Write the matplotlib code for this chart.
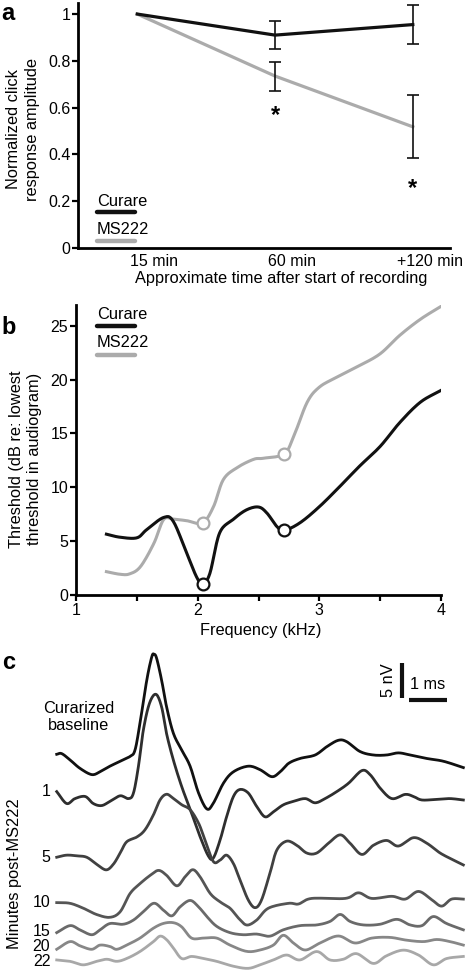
import matplotlib
matplotlib.use("Agg")
import matplotlib.pyplot as plt
import numpy as np
from matplotlib.transforms import ScaledTranslation

plt.rcParams["font.family"] = ["Liberation Sans", "DejaVu Sans"]
plt.rcParams["font.size"] = 11.5

# ---- panel a: normalized click response ----
time_labels = ["15 min", "60 min", "+120 min"]
curare_amp = [1.0, 0.91, 0.955]
curare_err = [0.0, 0.06, 0.085]
ms222_amp = [1.0, 0.735, 0.518]
ms222_err = [0.0, 0.062, 0.135]
sig_idx = [1, 2]
sig_y = [0.565, 0.255]

# ---- panel b: audiograms ----
curare_freq = [1.25, 1.36, 1.50, 1.58, 1.72, 1.80, 1.91, 1.99, 2.04, 2.10, 2.18, 2.29,
               2.40, 2.50, 2.57, 2.65, 2.71, 2.84, 3.00, 3.17, 3.33, 3.50, 3.66, 3.83, 4.00]
curare_thr = [5.65, 5.37, 5.31, 6.06, 7.2, 6.83, 3.88, 1.7, 1.0, 2.0, 5.75, 7.0,
              7.9, 8.17, 7.6, 6.37, 6.0, 6.7, 8.2, 10.1, 11.96, 13.8, 16.0, 17.9, 19.0]
ms222_freq = [1.25, 1.36, 1.44, 1.53, 1.64, 1.72, 1.80, 1.91, 2.04, 2.13, 2.21, 2.32,
              2.46, 2.54, 2.71, 2.79, 2.90, 3.00, 3.14, 3.33, 3.50, 3.66, 3.83, 4.00]
ms222_thr = [2.17, 1.93, 1.96, 2.64, 4.8, 7.0, 7.05, 6.9, 6.7, 8.2, 10.7, 11.8,
             12.6, 12.7, 13.1, 14.75, 17.9, 19.3, 20.2, 21.3, 22.4, 24.1, 25.6, 26.8]
curare_marked = [(2.04, 1.0), (2.71, 6.0)]
ms222_marked = [(2.04, 6.7), (2.71, 13.1)]

# ---- panel c: ABR traces (time ms, amplitude nV) ----
trace_names = ["Curarized\nbaseline", "1", "5", "10", "15", "20", "22"]
t_base = [0.00, 0.13, 0.35, 0.61, 0.92, 1.14, 1.40, 1.67, 1.93, 2.06, 2.19, 2.37, 2.50, 2.56,
          2.63, 2.76, 2.89, 3.07, 3.29, 3.51, 3.73, 3.95, 4.12, 4.39, 4.65, 5.04, 5.35, 5.66,
          5.88, 6.10, 6.40, 6.80, 7.11, 7.41, 7.63, 7.98, 8.33, 8.68, 8.99, 9.30, 9.74, 10.18, 10.70]
v_base = [0.0, 0.1, -0.8, -2.0, -2.9, -2.5, -1.7, -1.0, -0.3, 0.6, 4.4, 10.6, 13.9, 14.3,
          13.7, 10.6, 6.8, 3.0, 0.6, -1.7, -5.5, -7.8, -7.0, -4.1, -2.5, -1.7, -2.2, -3.2,
          -2.5, -1.3, -0.6, -0.1, 1.1, 2.0, 1.8, 0.4, -0.1, -0.1, 0.2, -0.1, -0.6, -1.0, -1.9]
t_1 = [0.00, 0.26, 0.48, 0.75, 0.96, 1.18, 1.40, 1.67, 1.89, 2.02, 2.15, 2.28, 2.44, 2.61,
       2.76, 2.89, 3.07, 3.29, 3.55, 3.77, 3.99, 4.12, 4.30, 4.47, 4.65, 4.82, 5.04, 5.26,
       5.48, 5.70, 5.96, 6.23, 6.54, 6.80, 7.06, 7.37, 7.68, 8.03, 8.25, 8.51, 8.82, 9.17,
       9.39, 9.61, 10.00, 10.35, 10.70]
v_1 = [0.0, -1.7, -1.0, -0.7, -1.7, -2.0, -1.4, -0.6, -1.0, -0.2, 3.6, 8.8, 12.6, 13.9,
       12.1, 8.3, 4.5, 0.7, -3.1, -6.4, -9.2, -9.5, -6.9, -3.6, -0.7, 0.3, -0.2, -2.1,
       -3.6, -2.9, -1.9, -1.4, -1.0, -1.6, -1.0, 0.0, 1.2, 3.0, 2.4, 0.5, -1.0, -0.4,
       -0.7, -1.2, -1.1, -1.0, -1.2]
t_5 = [0.00, 0.26, 0.53, 0.79, 1.05, 1.30, 1.49, 1.67, 1.84, 2.11, 2.32, 2.54, 2.72, 2.89,
       3.07, 3.29, 3.51, 3.73, 3.90, 4.12, 4.30, 4.47, 4.65, 4.82, 5.04, 5.22, 5.39, 5.61,
       5.79, 6.05, 6.32, 6.58, 6.84, 7.15, 7.46, 7.72, 8.03, 8.33, 8.68, 8.99, 9.39, 9.74,
       10.09, 10.44, 10.70]
v_5 = [0.0, 0.3, 0.2, 0.0, -1.0, -1.8, -1.0, 0.6, 2.2, 2.9, 3.9, 6.0, 8.2, 9.0,
       8.4, 7.5, 6.8, 4.9, 2.5, -0.6, -0.4, 0.3, -0.9, -3.2, -6.1, -7.2, -6.1, -2.3,
       1.0, 2.3, 1.7, 0.6, 0.6, 2.0, 3.2, 2.0, 0.4, 1.7, 2.4, 1.6, 2.8, 2.0,
       0.6, -0.4, -1.1]
t_10 = [0.00, 0.35, 0.70, 1.05, 1.40, 1.67, 1.93, 2.19, 2.46, 2.68, 2.89, 3.16, 3.38, 3.58,
        3.77, 4.04, 4.30, 4.56, 4.78, 5.00, 5.26, 5.57, 6.10, 6.36, 6.71, 7.59, 7.94, 8.29,
        8.82, 9.17, 9.52, 9.87, 10.13, 10.39, 10.70]
v_10 = [0.0, -0.1, -0.8, -1.7, -2.1, -1.3, 1.3, 2.7, 3.9, 4.6, 3.9, 2.4, 3.7, 4.7,
        3.7, 1.3, 0.1, -0.8, -2.2, -3.2, -2.5, -0.8, -0.1, -0.2, 0.6, 0.6, 1.4, 0.6,
        0.9, 0.5, 1.6, 0.4, -0.5, 0.5, 0.5]
t_15 = [0.00, 0.35, 0.61, 0.92, 1.14, 1.40, 1.75, 2.02, 2.28, 2.56, 2.81, 3.03, 3.25, 3.51,
        3.73, 3.95, 4.21, 4.56, 4.91, 5.26, 5.61, 5.96, 6.40, 6.84, 7.19, 7.46, 7.72, 8.07,
        8.51, 8.95, 9.30, 9.61, 9.91, 10.26, 10.70]
v_15 = [0.0, 1.0, 0.4, -0.3, 0.4, 1.3, 1.2, 1.8, 3.0, 4.2, 3.2, 2.4, 3.7, 4.6,
        3.7, 2.3, 0.9, 0.0, -0.3, -0.2, -0.5, 0.4, 1.0, 1.1, 1.6, 2.6, 1.6, 1.1,
        1.2, 1.9, 1.1, 1.0, 2.3, 1.3, 0.4]
t_20 = [0.00, 0.35, 0.61, 0.92, 1.14, 1.40, 1.58, 1.84, 2.19, 2.54, 2.81, 3.07, 3.29, 3.55,
        3.86, 4.21, 4.56, 5.00, 5.35, 5.70, 5.96, 6.23, 6.54, 6.93, 7.41, 7.85, 8.29, 8.77,
        9.21, 9.65, 10.00, 10.35, 10.70]
v_20 = [0.0, 1.1, 0.5, 0.0, 0.6, 0.4, 0.0, 0.6, 1.6, 3.0, 3.7, 3.8, 3.2, 1.6,
        1.6, 1.6, 0.6, -0.3, -0.1, 0.6, 2.0, 0.9, -0.1, 0.9, 1.9, 0.9, 1.6, 1.7,
        1.3, 1.1, 1.4, 1.1, 0.6]
t_22 = [0.00, 0.35, 0.70, 1.05, 1.32, 1.58, 1.84, 2.19, 2.54, 2.72, 2.89, 3.07, 3.29, 3.55,
        3.86, 4.21, 4.65, 5.04, 5.35, 5.70, 6.05, 6.40, 6.84, 7.19, 7.54, 7.89, 8.33, 8.68,
        9.12, 9.52, 9.91, 10.26, 10.70]
v_22 = [0.0, -0.2, -0.7, -0.2, 0.1, -0.2, 0.2, 1.2, 2.6, 3.4, 2.9, 1.7, 0.2, 0.5,
        0.2, -0.2, -0.9, -1.2, -0.7, 0.0, 0.7, 0.0, 1.2, 0.0, 0.1, 0.9, -0.5, 0.6,
        1.4, 0.7, -0.7, 0.2, 0.5]
trace_times = [t_base, t_1, t_5, t_10, t_15, t_20, t_22]
trace_volts = [v_base, v_1, v_5, v_10, v_15, v_20, v_22]

# layout / style
trace_offsets = [0.0, -5.33, -14.71, -21.19, -25.48, -27.86, -29.38]
label_nudge = [0.0, 0.0, 0.0, 0.0, 0.1, 0.45, -0.25]
trace_colors = ["#111111", "#2e2e2e", "#404040", "#555555", "#6a6a6a", "#878787", "#a8a8a8"]
BLACK = "#111111"
GRAY = "#ababab"


def smooth(x, y, n=14):
    """Catmull-Rom curve through the read points, for drawing only."""
    x = np.asarray(x, float)
    y = np.asarray(y, float)
    px = np.concatenate([[2 * x[0] - x[1]], x, [2 * x[-1] - x[-2]]])
    py = np.concatenate([[2 * y[0] - y[1]], y, [2 * y[-1] - y[-2]]])
    t = np.linspace(0, 1, n, endpoint=False)[:, None]
    pts = []
    for i in range(1, len(px) - 2):
        p = np.array([[px[j], py[j]] for j in range(i - 1, i + 3)])
        seg = 0.5 * (2 * p[1] + (-p[0] + p[2]) * t
                     + (2 * p[0] - 5 * p[1] + 4 * p[2] - p[3]) * t ** 2
                     + (-p[0] + 3 * p[1] - 3 * p[2] + p[3]) * t ** 3)
        pts.append(seg)
    pts.append(np.array([[x[-1], y[-1]]]))
    pts = np.vstack(pts)
    return pts[:, 0], pts[:, 1]


def style_axes(ax):
    for side in ["top", "right"]:
        ax.spines[side].set_visible(False)
    for side in ["left", "bottom"]:
        ax.spines[side].set_linewidth(2.0)
    ax.tick_params(width=1.6, length=4, pad=1.5, direction="out", labelsize=11.5)


fig = plt.figure(figsize=(4.66, 9.71), dpi=100)

# ---------------- panel a ----------------
ax_a = fig.add_axes([0.1674, 0.7446, 0.7983, 0.252])
x = np.arange(len(time_labels))
ax_a.plot(x, curare_amp, color=BLACK, lw=2.3, zorder=3)
ax_a.plot(x, ms222_amp, color=GRAY, lw=2.3, zorder=2)
ax_a.errorbar(x[1:], curare_amp[1:], yerr=curare_err[1:], fmt="none", ecolor=BLACK,
              elinewidth=1.2, capsize=4, capthick=1.2, zorder=4)
ax_a.errorbar(x[1:], ms222_amp[1:], yerr=ms222_err[1:], fmt="none", ecolor=BLACK,
              elinewidth=1.2, capsize=4, capthick=1.2, zorder=4)
for i, yy in zip(sig_idx, sig_y):
    ax_a.text(x[i], yy, "*", ha="center", va="center", fontsize=17, fontweight="bold")
ax_a.set_xlim(-0.43, 2.27)
ax_a.set_ylim(0, 1.046)
ax_a.set_yticks([0, 0.2, 0.4, 0.6, 0.8, 1.0], ["0", "0.2", "0.4", "0.6", "0.8", "1"])
ax_a.set_xticks(x, time_labels)
style_axes(ax_a)
ax_a.tick_params(axis="x", length=0, pad=4)
for lbl in ax_a.get_xticklabels():
    lbl.set_transform(lbl.get_transform() + ScaledTranslation(0.17, 0, fig.dpi_scale_trans))
ax_a.set_xlabel("Approximate time after start of recording", fontsize=11.8)
ax_a.xaxis.set_label_coords(0.546, -0.095)
ax_a.set_ylabel("Normalized click\nresponse amplitude", fontsize=11.8, linespacing=1.3)
ax_a.yaxis.set_label_coords(-0.102, 0.486)
ax_a.text(0.051, 0.192, "Curare", transform=ax_a.transAxes, va="center", fontsize=11.8)
ax_a.plot([0.051, 0.153], [0.147, 0.147], transform=ax_a.transAxes, color=BLACK, lw=3.2,
          solid_capstyle="round")
ax_a.text(0.051, 0.074, "MS222", transform=ax_a.transAxes, va="center", fontsize=11.8)
ax_a.plot([0.051, 0.153], [0.030, 0.030], transform=ax_a.transAxes, color=GRAY, lw=3.2,
          solid_capstyle="round", clip_on=False)
fig.text(0.002, 0.998, "a", fontsize=17, fontweight="bold", va="top", ha="left")

# ---------------- panel b ----------------
ax_b = fig.add_axes([0.1631, 0.3872, 0.7833, 0.2984])
sx, sy = smooth(curare_freq, curare_thr)
ax_b.plot(sx, sy, color=BLACK, lw=2.2, zorder=3)
sx, sy = smooth(ms222_freq, ms222_thr)
ax_b.plot(sx, sy, color=GRAY, lw=2.2, zorder=2)
ax_b.plot([p[0] for p in curare_marked], [p[1] for p in curare_marked], "o", ms=8.5,
          mfc="white", mec=BLACK, mew=1.6, zorder=5, clip_on=False)
ax_b.plot([p[0] for p in ms222_marked], [p[1] for p in ms222_marked], "o", ms=8.5,
          mfc="white", mec=GRAY, mew=1.6, zorder=4)
ax_b.set_xlim(1, 4)
ax_b.set_ylim(0, 26.9)
ax_b.set_xticks([1, 1.5, 2, 2.5, 3, 3.5, 4], ["1", "", "2", "", "3", "", "4"])
ax_b.set_yticks([0, 5, 10, 15, 20, 25])
style_axes(ax_b)
ax_b.set_xlabel("Frequency (kHz)", fontsize=11.8)
ax_b.xaxis.set_label_coords(0.505, -0.095)
ax_b.set_ylabel("Threshold (dB re: lowest\nthreshold in audiogram)", fontsize=11.8,
                linespacing=1.25)
ax_b.yaxis.set_label_coords(-0.093, 0.469)
ax_b.text(0.0575, 0.9665, "Curare", transform=ax_b.transAxes, va="center", fontsize=11.8)
ax_b.plot([0.0575, 0.1616], [0.9286, 0.9286], transform=ax_b.transAxes, color=BLACK,
          lw=3.2, solid_capstyle="round")
ax_b.text(0.0575, 0.870, "MS222", transform=ax_b.transAxes, va="center", fontsize=11.8)
ax_b.plot([0.0575, 0.1616], [0.828, 0.828], transform=ax_b.transAxes, color=GRAY,
          lw=3.2, solid_capstyle="round")
fig.text(0.004, 0.6625, "b", fontsize=17, fontweight="bold", va="center", ha="left")

# ---------------- panel c ----------------
ax_c = fig.add_axes([0.1217, 0.0, 0.8726, 0.3409])
for tt, vv, off, col in zip(trace_times, trace_volts, trace_offsets, trace_colors):
    sx, sy = smooth(tt, vv, n=10)
    ax_c.plot(sx, sy + off, color=col, lw=2.0, clip_on=False, solid_joinstyle="round")
ax_c.set_xlim(0, 10.7)
ax_c.set_ylim(-30.96, 16.33)
ax_c.axis("off")

# scale bars: 1 ms, 5 nV
ax_c.plot([9.08, 9.08], [8.04, 13.04], color=BLACK, lw=3.0, solid_capstyle="butt")
ax_c.plot([9.27, 10.27], [7.76, 7.76], color=BLACK, lw=3.0, solid_capstyle="butt")
ax_c.text(8.72, 10.55, "5 nV", rotation=90, ha="center", va="center", fontsize=11.8)
ax_c.text(9.77, 9.95, "1 ms", ha="center", va="center", fontsize=11.8)

# trace labels
ax_c.text(0.57, 5.3, trace_names[0], ha="center", va="center", fontsize=11.8,
          linespacing=1.2)
for name, off, nudge in zip(trace_names[1:], trace_offsets[1:], label_nudge[1:]):
    ax_c.text(-0.17, off + nudge, name, ha="right", va="center", fontsize=11.5,
              clip_on=False)
fig.text(0.032, 0.10, "Minutes post-MS222", rotation=90, ha="center", va="center",
         fontsize=11.8)
fig.text(0.004, 0.318, "c", fontsize=17, fontweight="bold", va="center", ha="left")

fig.savefig("out.png", dpi=100)
